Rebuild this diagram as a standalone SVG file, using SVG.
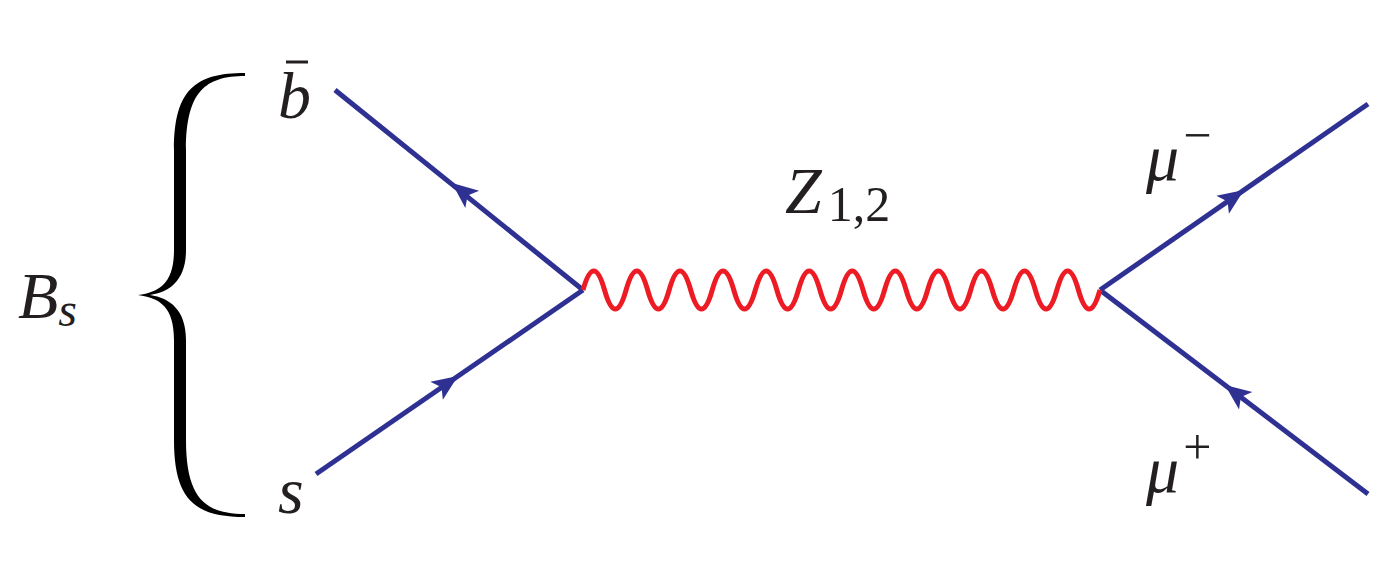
<svg xmlns="http://www.w3.org/2000/svg" width="1398" height="570" viewBox="0 0 1398 570">
<style>
.f{stroke:#2e3192;stroke-width:5;fill:none}
.a{fill:#2e3192}
.t{font-family:"Liberation Serif",serif;font-style:italic;font-size:66px;fill:#231f20}
.s{font-family:"Liberation Serif",serif;font-size:50px;fill:#231f20}
</style>
<rect width="1398" height="570" fill="#fff"/>
<g id="connectors">
<line class="f" x1="335" y1="90" x2="583" y2="290"/>
<line class="f" x1="316" y1="474" x2="583" y2="290"/>
<line class="f" x1="1100" y1="290" x2="1368" y2="104"/>
<line class="f" x1="1100" y1="290" x2="1368" y2="494"/>
<path d="M583,290 q10.77,-38 21.54,0 t21.54,0 t21.54,0 t21.54,0 t21.54,0 t21.54,0 t21.54,0 t21.54,0 t21.54,0 t21.54,0 t21.54,0 t21.54,0 t21.54,0 t21.54,0 t21.54,0 t21.54,0 t21.54,0 t21.54,0 t21.54,0 t21.54,0 t21.54,0 t21.54,0 t21.54,0 t21.54,0" fill="none" stroke="#ed1c24" stroke-width="5"/>
<polygon class="a" points="0,0 -26,-11 -20,0 -26,11" transform="translate(452,183) rotate(218.9)"/>
<polygon class="a" points="0,0 -26,-11 -20,0 -26,11" transform="translate(458,376) rotate(-34.6)"/>
<polygon class="a" points="0,0 -26,-11 -20,0 -26,11" transform="translate(1244,190) rotate(-34.8)"/>
<polygon class="a" points="0,0 -26,-11 -20,0 -26,11" transform="translate(1225,385) rotate(217.3)"/>
</g>
<g id="brace">
<path d="M245,73 C195,73 174,90 174,150 L174,250 C174,283 160,292 138,295 C160,298 174,307 174,340 L174,440 C174,500 195,517 245,517 L245,514 C205,514 186,498 186,440 L186,340 C186,310 170,298 150,295 C170,292 186,280 186,250 L186,150 C186,92 205,76 245,76 Z" fill="#000"/>
</g>
<g id="labels">
<text class="t" x="278" y="118">b</text>
<line x1="286" y1="62" x2="308" y2="62" stroke="#231f20" stroke-width="3"/>
<text class="t" x="278" y="513">s</text>
<text class="t" x="18" y="318">B<tspan font-size="48" dy="8">s</tspan></text>
<text class="t" x="785" y="213">Z<tspan class="s" font-style="normal" dx="6" dy="8">1,2</tspan></text>
<text class="t" x="1146" y="180">μ<tspan class="s" font-style="normal" dx="4" dy="-28">−</tspan></text>
<text class="t" x="1146" y="492">μ<tspan class="s" font-style="normal" dx="4" dy="-28">+</tspan></text>
</g>
</svg>
